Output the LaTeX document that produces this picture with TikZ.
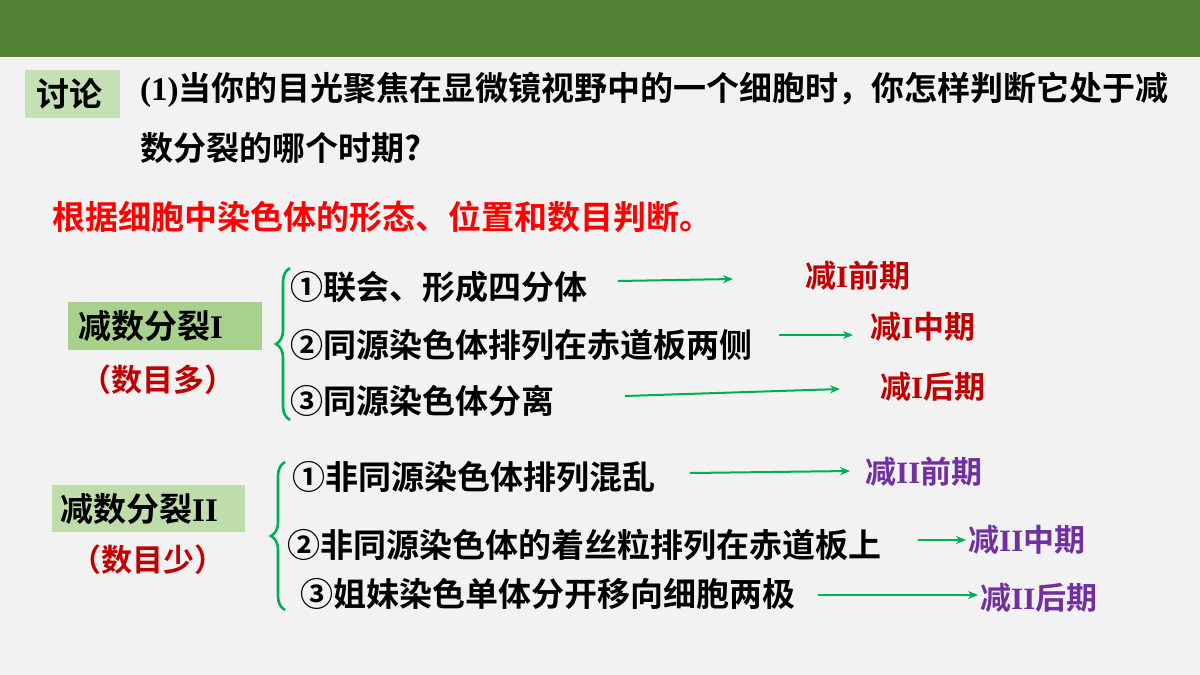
\documentclass[tikz,border=0pt]{standalone}
\usepackage{fontspec}
\setmainfont{Noto Sans CJK SC Bold}
\newfontfamily\rom{Liberation Serif}[BoldFont=* Bold]
\usetikzlibrary{decorations.pathreplacing,arrows.meta}
\definecolor{bar}{HTML}{548235}
\definecolor{boxg}{HTML}{A9D18E}
\definecolor{boxl}{HTML}{C5E0B4}
\definecolor{arr}{HTML}{00B050}
\definecolor{dred}{HTML}{C00000}
\definecolor{purp}{HTML}{7030A0}
\newcommand{\RI}{{\rom\bfseries I}}
\newcommand{\RII}{{\rom\bfseries II}}
\begin{document}
\begin{tikzpicture}[x=1pt,y=-1pt,
  txt/.style={anchor=west,inner sep=0pt,font=\fontsize{33}{37}\selectfont},
  lab/.style={anchor=west,inner sep=0pt,font=\fontsize{31}{35}\selectfont},
  garr/.style={draw=arr,line width=2pt,-{Stealth[length=10pt,width=8pt]}},
  gbrace/.style={draw=arr,line width=2.6pt,decorate,decoration={brace,amplitude=14pt}}]
\useasboundingbox (0,0) rectangle (1200,675);
\fill[black!5] (0,0) rectangle (1200,675);
\fill[bar] (0,0) rectangle (1200,57);
\fill[boxl] (25,70) rectangle (120,118);
\node[inner sep=0pt,font=\fontsize{33}{37}\selectfont] (tl) at (69,94) {讨论};
\node[txt] (q1) at (140,90) {{\rom\bfseries(1)}当你的目光聚焦在显微镜视野中的一个细胞时，你怎样判断它处于减};
\node[txt] (q2) at (140,148) {数分裂的哪个时期?};
\node[txt,text=red] (ans) at (52,217) {根据细胞中染色体的形态、位置和数目判断。};
\fill[boxg] (68,302) rectangle (262,350);
\node[txt] (m1) at (78,326) {减数分裂\RI};
\node[inner sep=0pt,text=dred,font=\fontsize{31}{35}\selectfont] (n1) at (158,380) {（数目多）};
\draw[gbrace] (290,420) -- (290,268);
\node[txt] (a1) at (290,287) {①联会、形成四分体};
\node[txt] (a2) at (290,345) {②同源染色体排列在赤道板两侧};
\node[txt] (a3) at (290,401) {③同源染色体分离};
\coordinate (s1) at (618,281); \coordinate (e1) at (733,279);
\coordinate (s2) at (779,335); \coordinate (e2) at (853,335);
\coordinate (s3) at (625,396); \coordinate (e3) at (840,389);
\draw[garr] (s1) -- (e1); \draw[garr] (s2) -- (e2); \draw[garr] (s3) -- (e3);
\node[lab,text=dred] (l1) at (805,276) {减\RI 前期};
\node[lab,text=dred] (l2) at (870,327) {减\RI 中期};
\node[lab,text=dred] (l3) at (880,387) {减\RI 后期};
\fill[boxg!75] (52,485) rectangle (245,532);
\node[txt] (m2) at (60,509) {减数分裂\RII};
\node[inner sep=0pt,text=dred,font=\fontsize{31}{35}\selectfont] (n2) at (148,560) {（数目少）};
\draw[gbrace] (285,610) -- (285,462);
\node[txt] (b1) at (292,477) {①非同源染色体排列混乱};
\node[txt] (b2) at (287,545) {②非同源染色体的着丝粒排列在赤道板上};
\node[txt] (b3) at (300,594) {③姐妹染色单体分开移向细胞两极};
\coordinate (t1) at (690,473); \coordinate (f1) at (850,471);
\coordinate (t2) at (918,540); \coordinate (f2) at (966,540);
\coordinate (t3) at (818,595); \coordinate (f3) at (978,595);
\draw[garr] (t1) -- (f1); \draw[garr] (t2) -- (f2); \draw[garr] (t3) -- (f3);
\node[lab,text=purp] (k1) at (865,472) {减\RII 前期};
\node[lab,text=purp] (k2) at (968,540) {减\RII 中期};
\node[lab,text=purp] (k3) at (980,598) {减\RII 后期};
\end{tikzpicture}
\end{document}
